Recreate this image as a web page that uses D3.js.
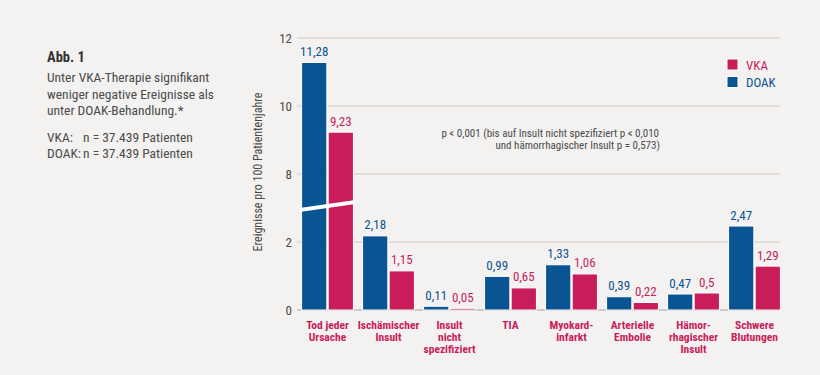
<!DOCTYPE html>
<html>
<head>
<meta charset="utf-8">
<script src="https://cdn.jsdelivr.net/npm/d3@7"></script>
<style>
    body { margin: 0; background: #f3f2f0; }
    svg { display: block; font-family: "Liberation Sans Narrow", "Roboto Condensed", sans-serif; }
</style>
</head>
<body>
<svg id="chart" width="820" height="375"></svg>
<script>
let categories = ["Tod jeder\nUrsache", "Ischämischer\nInsult", "Insult\nnicht\nspezifiziert", "TIA",
    "Myokard-\ninfarkt", "Arterielle\nEmbolie", "Hämor-\nrhagischer\nInsult", "Schwere\nBlutungen"]
let series = ["DOAK", "VKA"]
let doak = [11.28, 2.18, 0.11, 0.99, 1.33, 0.39, 0.47, 2.47]
let vka = [9.23, 1.15, 0.05, 0.65, 1.06, 0.22, 0.5, 1.29]
let yTicks = [0, 2, 8, 10, 12]
let legendOrder = ["VKA", "DOAK"]

let colors = { DOAK: "#0a5494", VKA: "#c81c5b" }
let textGray = "#4a4a4a"
// Achsenbruch: zwischen 2,6 und 7,4 gestaucht
let breakLow = 2.6, breakHigh = 7.4, breakValue = 5.7

let svg = d3.select("#chart")

// linke Textspalte
let intro = svg.append("g").attr("fill", textGray).style("font-size", "13.5px")
intro.append("text").attr("x", 47).attr("y", 62).attr("font-weight", "bold").attr("fill", "#333")
    .style("font-size", "14.5px").text("Abb. 1")
let lines = ["Unter VKA-Therapie signifikant", "weniger negative Ereignisse als", "unter DOAK-Behandlung.*"]
lines.forEach((t, i) => {
    intro.append("text").attr("x", 47).attr("y", 82 + i * 16.7).text(t)
})
let k1 = intro.append("text").attr("x", 47).attr("y", 141.5).text("VKA:")
let k2 = intro.append("text").attr("x", 47).attr("y", 158).text("DOAK:")
let nx = Math.max(83, 47 + k2.node().getComputedTextLength() + 2)
intro.append("text").attr("x", nx).attr("y", 141.5).text("n = 37.439 Patienten")
intro.append("text").attr("x", nx).attr("y", 158).text("n = 37.439 Patienten")

// Skalen
let yScale = d3.scaleLinear()
    .domain([0, breakLow, breakHigh, 12])
    .range([310, 310 - breakLow * 34, 174 + (8 - breakHigh) * 34, 38])

let x0 = d3.scaleBand()
    .domain(categories)
    .range([297, 785])
    .paddingInner(0.15)
    .paddingOuter(0.075)

let x1 = d3.scaleBand()
    .domain(series)
    .range([0, x0.bandwidth()])
    .paddingInner(0.05)

// Gitterlinien
svg.append("g").selectAll("line")
    .data(yTicks)
    .enter()
    .append("line")
    .attr("x1", 297)
    .attr("x2", 780)
    .attr("y1", d => yScale(d))
    .attr("y2", d => yScale(d))
    .attr("stroke", d => d == 0 ? "#cfccc8" : "#dcd9d5")
    .attr("stroke-width", d => d == 0 ? 2 : 1.5)

svg.append("g").selectAll("text")
    .data(yTicks)
    .enter()
    .append("text")
    .attr("x", 292)
    .attr("y", d => yScale(d) + 4.5)
    .attr("text-anchor", "end")
    .attr("fill", textGray)
    .style("font-size", "13px")
    .text(d => d)

svg.append("text")
    .attr("transform", "translate(262,172) rotate(-90)")
    .attr("text-anchor", "middle")
    .attr("fill", textGray)
    .style("font-size", "12px")
    .text("Ereignisse pro 100 Patientenjahre")

let rows = categories.map((c, i) => ({ cat: c, DOAK: doak[i], VKA: vka[i] }))

// Balken
let groups = svg.append("g").selectAll("g")
    .data(rows)
    .enter()
    .append("g")
    .attr("transform", d => "translate(" + x0(d.cat) + ",0)")

groups.selectAll("rect")
    .data(d => series.map(s => ({ key: s, value: d[s] })))
    .enter()
    .append("rect")
    .attr("x", d => x1(d.key))
    .attr("y", d => yScale(d.value))
    .attr("width", x1.bandwidth())
    .attr("height", d => yScale(0) - yScale(d.value))
    .attr("fill", d => colors[d.key])
    .attr("stroke", "#fff")
    .attr("stroke-width", 1)

groups.selectAll(".val")
    .data(d => series.map(s => ({ key: s, value: d[s] })))
    .enter()
    .append("text")
    .attr("class", "val")
    .attr("x", d => x1(d.key) + x1.bandwidth() / 2)
    .attr("y", d => yScale(d.value) - 6.5)
    .attr("text-anchor", "middle")
    .attr("fill", d => colors[d.key])
    .style("font-size", "13px")
    .text(d => String(d.value).replace(".", ","))

// Bruchmarke über den hohen Balken
let breakRows = rows.filter(d => d.DOAK > breakHigh || d.VKA > breakHigh)
svg.append("g").selectAll("path")
    .data(breakRows)
    .enter()
    .append("path")
    .attr("d", d => {
        let xa = x0(d.cat) - 2
        let xb = x0(d.cat) + x0.bandwidth() + 2
        let ya = yScale(breakValue) + 4
        let yb = yScale(breakValue) - 4
        return "M" + xa + "," + ya + "L" + xb + "," + yb + "L" + xb + "," + (yb + 4) + "L" + xa + "," + (ya + 4) + "Z"
    })
    .attr("fill", "#fff")

// Kategorien (eine Textzeile pro Element)
let labelLines = []
categories.forEach(c => {
    c.split("\n").forEach((t, i) => labelLines.push({ cat: c, text: t, row: i }))
})
svg.append("g").selectAll("text")
    .data(labelLines)
    .enter()
    .append("text")
    .attr("x", d => x0(d.cat) + x0.bandwidth() / 2)
    .attr("y", d => 329 + d.row * 12)
    .attr("text-anchor", "middle")
    .attr("fill", colors.VKA)
    .attr("font-weight", "bold")
    .style("font-size", "11.5px")
    .text(d => d.text)

// Legende
let legend = svg.append("g").selectAll("g")
    .data(legendOrder)
    .enter()
    .append("g")
    .attr("transform", (d, i) => "translate(727," + (59 + i * 17.5) + ")")
legend.append("rect")
    .attr("width", 11)
    .attr("height", 11)
    .attr("fill", d => colors[d])
    .attr("stroke", "#fff")
legend.append("text")
    .attr("x", 19)
    .attr("y", 10.5)
    .attr("fill", d => colors[d])
    .style("font-size", "13px")
    .text(d => d)

// Hinweis p-Werte
let note = svg.append("g").attr("fill", textGray).style("font-size", "11px").attr("text-anchor", "end")
note.append("text").attr("x", 659).attr("y", 137).text("p < 0,001 (bis auf Insult nicht spezifiziert p < 0,010")
note.append("text").attr("x", 660).attr("y", 149).text("und hämorrhagischer Insult p = 0,573)")
</script>
</body>
</html>
